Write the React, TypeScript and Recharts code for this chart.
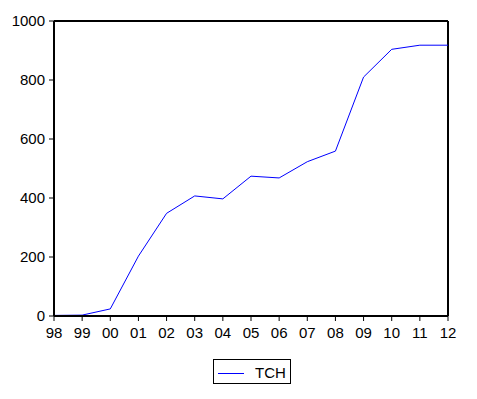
import React from 'react';
import { LineChart, Line, XAxis, YAxis, ReferenceLine, Legend } from 'recharts';

const years = ['98', '99', '00', '01', '02', '03', '04', '05', '06', '07', '08', '09', '10', '11', '12'];
const tch = [2, 3, 24, 203, 348, 407, 397, 474, 468, 523, 559, 810, 904, 918, 918];
const yTicks = [0, 200, 400, 600, 800, 1000];

const data = years.map((y, i) => ({ year: y, TCH: tch[i] }));

const FONT = '"Liberation Sans", Arial, Helvetica, sans-serif';

const LegendBox = () => (
  <div
    style={{
      width: 76,
      height: 23,
      border: '1px solid #000',
      display: 'flex',
      alignItems: 'center',
      fontFamily: FONT,
      fontSize: 15,
      color: '#000',
      background: '#fff',
    }}
  >
    <svg width={40} height={23} style={{ display: 'block' }}>
      <line x1={4} x2={30} y1={13.5} y2={13.5} stroke="#0000FF" strokeWidth={1} />
    </svg>
    <span style={{ marginLeft: 1, lineHeight: '23px', paddingTop: 1 }}>TCH</span>
  </div>
);

export default function App() {
  return (
    <div style={{ position: 'absolute', left: 0, top: 0, width: 477, height: 399, background: '#fff' }}>
      <LineChart
        width={477}
        height={399}
        data={data}
        margin={{ top: 21, right: 29, left: 0, bottom: 53 }}
      >
        <XAxis
          dataKey="year"
          height={30}
          interval={0}
          tickSize={5}
          tickMargin={6}
          axisLine={{ stroke: '#000', strokeWidth: 2 }}
          tickLine={{ stroke: '#000', strokeWidth: 1 }}
          tick={{ fill: '#000', fontSize: 15, fontFamily: FONT }}
          padding={{ left: 0, right: 0 }}
        />
        <YAxis
          width={54}
          domain={[0, 1000]}
          ticks={yTicks}
          interval={0}
          tickSize={5}
          tickMargin={4}
          axisLine={{ stroke: '#000', strokeWidth: 2 }}
          tickLine={{ stroke: '#000', strokeWidth: 1 }}
          tick={{ fill: '#000', fontSize: 15, fontFamily: FONT }}
        />
        <ReferenceLine y={1000} stroke="#000" strokeWidth={2} />
        <ReferenceLine x="12" stroke="#000" strokeWidth={2} />
        <Line
          type="linear"
          dataKey="TCH"
          stroke="#0000FF"
          strokeWidth={1}
          dot={false}
          activeDot={false}
          isAnimationActive={false}
        />
        <Legend
          layout="horizontal"
          verticalAlign="middle"
          align="center"
          content={() => <LegendBox />}
          wrapperStyle={{ position: 'absolute', left: 213, top: 359, width: 78, height: 25 }}
        />
      </LineChart>
    </div>
  );
}
